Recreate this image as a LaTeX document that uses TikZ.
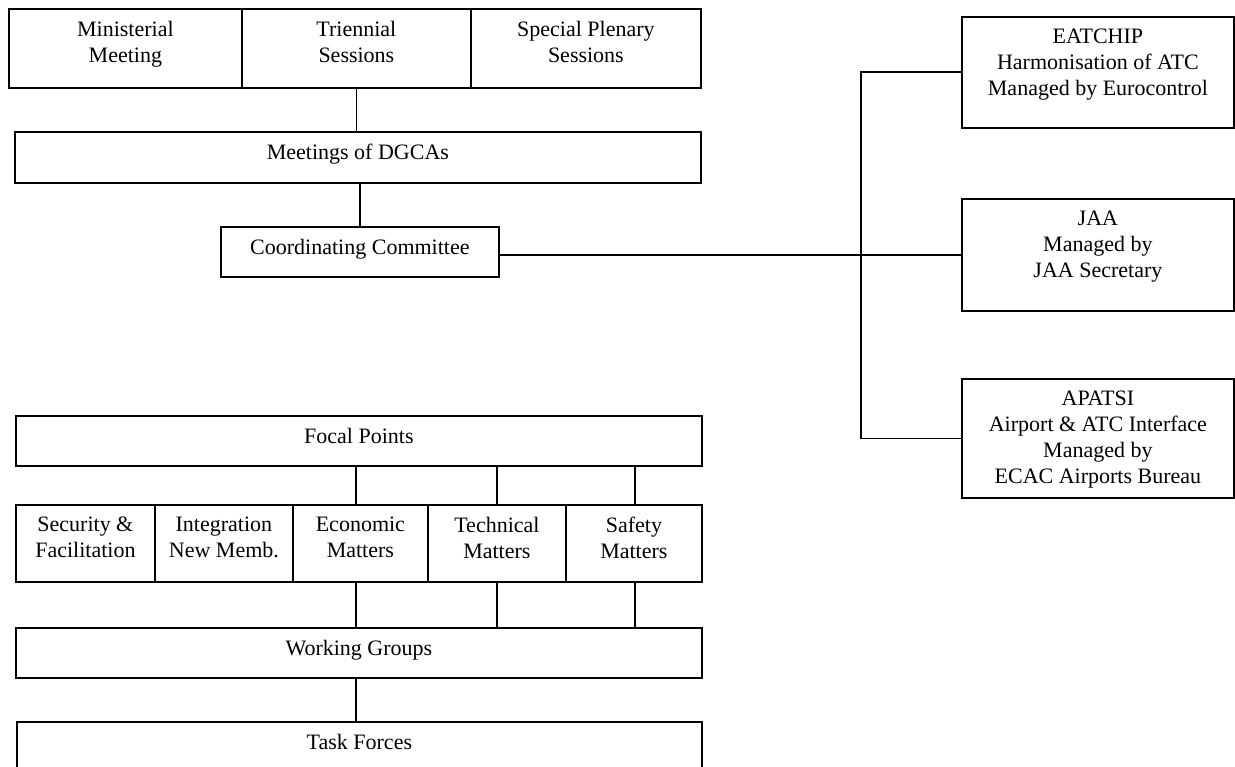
\documentclass[tikz,border=0pt]{standalone}
\usepackage{fontspec}
\setmainfont{Liberation Serif}
\newcommand{\mkbox}[6]{%
  \node[box, minimum width={#4-#2}, minimum height={#5-#3}] (#1) at (#2,#3) {};
  \node[lbl] (#1t) at ([yshift=-13pt]#1.north) {#6};}
\begin{document}
\begin{tikzpicture}[x=1pt,y=-1pt,
  box/.style={draw, line width=1.8pt, inner sep=0pt, anchor=north west},
  lbl/.style={anchor=north, inner sep=0pt, align=center, font=\fontsize{22}{26}\selectfont},
  link/.style={line width=1.8pt}]
\useasboundingbox (0,0) rectangle (1235,767);
% top row
\mkbox{mm}{8}{8}{241}{87}{Ministerial\\Meeting}
\mkbox{tri}{241}{8}{470}{87}{Triennial\\Sessions}
\mkbox{spp}{470}{8}{700}{87}{Special Plenary\\Sessions}
\mkbox{dgca}{14}{131}{700}{182}{Meetings of DGCAs}
\mkbox{cc}{220}{226}{498}{276}{Coordinating Committee}
% right column
\mkbox{eat}{961}{16}{1233}{127}{EATCHIP\\Harmonisation of ATC\\Managed by Eurocontrol}
\mkbox{jaa}{961}{198}{1233}{310}{JAA\\Managed by\\JAA Secretary}
\mkbox{apa}{961}{378}{1233}{497}{APATSI\\Airport \& ATC Interface\\Managed by\\ECAC Airports Bureau}
% lower part
\mkbox{fp}{15}{415}{701}{465}{Focal Points}
\mkbox{sec}{15}{504}{154}{581}{Security \&\\Facilitation}
\mkbox{intg}{154}{504}{292}{581}{Integration\\New Memb.}
\mkbox{eco}{292}{504}{427}{581}{Economic\\Matters}
\mkbox{tec}{427}{504}{565}{581}{Technical\\Matters}
\mkbox{saf}{565}{504}{701}{581}{Safety\\Matters}
\mkbox{wg}{15}{627}{701}{677}{Working Groups}
\mkbox{tf}{16}{721}{701}{795}{Task Forces}
% connectors
\coordinate (sp) at (861,0);
\coordinate (c1) at (356,0);
\coordinate (c2) at (497,0);
\coordinate (c3) at (635,0);
\draw[link] (tri.south) -- (tri.south |- dgca.north);
\draw[link] (dgca.south -| cc.north) -- (cc.north);
\draw[link] (cc.east |- jaa.west) -- (jaa.west);
\draw[link] (eat.west) -- (eat.west -| sp) -- (apa.west -| sp) -- (apa.west);
\draw[link] (fp.south -| c1) -- (eco.north -| c1);
\draw[link] (fp.south -| c2) -- (tec.north -| c2);
\draw[link] (fp.south -| c3) -- (saf.north -| c3);
\draw[link] (eco.south -| c1) -- (wg.north -| c1);
\draw[link] (tec.south -| c2) -- (wg.north -| c2);
\draw[link] (saf.south -| c3) -- (wg.north -| c3);
\draw[link] (wg.south -| c1) -- (tf.north -| c1);
\end{tikzpicture}
\end{document}
